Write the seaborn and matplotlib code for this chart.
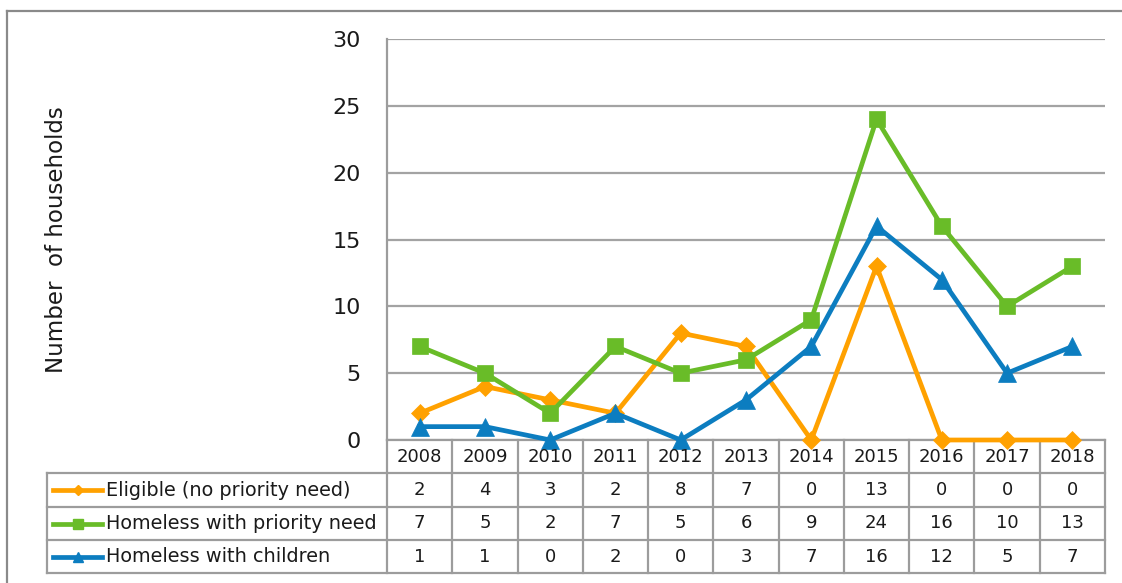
import matplotlib
matplotlib.use("Agg")
import matplotlib.pyplot as plt
import matplotlib.transforms as mtransforms
from matplotlib.lines import Line2D
import seaborn as sns

# Households by year and group
years = [2008, 2009, 2010, 2011, 2012, 2013, 2014, 2015, 2016, 2017, 2018]
eligible = [2, 4, 3, 2, 8, 7, 0, 13, 0, 0, 0]
priority_need = [7, 5, 2, 7, 5, 6, 9, 24, 16, 10, 13]
with_children = [1, 1, 0, 2, 0, 3, 7, 16, 12, 5, 7]

series_names = ["Eligible (no priority need)",
                "Homeless with priority need",
                "Homeless with children"]
series_values = [eligible, priority_need, with_children]
series_colors = ["#FFA100", "#69BC28", "#0C7DC0"]
series_markers = ["D", "s", "^"]
series_msizes = [9, 12, 13]
series_legend_msizes = [5, 6.5, 7]

y_ticks = [0, 5, 10, 15, 20, 25, 30]

grid_color = "#A3A3A3"
table_color = "#9C9C9C"
text_color = "#1A1A1A"

plt.rcParams["font.family"] = ["DejaVu Sans"]

W, H = 1122, 583
fig = plt.figure(figsize=(W / 100, H / 100), dpi=100)
fig.patch.set_facecolor("white")

# plot area in pixel terms
px_left, px_right, px_top, px_bottom = 387, 1105, 39, 440
ax = fig.add_axes([px_left / W, (H - px_bottom) / H,
                   (px_right - px_left) / W, (px_bottom - px_top) / H])

for name, vals, col, mk, ms in zip(series_names, series_values, series_colors,
                                   series_markers, series_msizes):
    sns.lineplot(x=years, y=vals, ax=ax, color=col, marker=mk, markersize=ms,
                 markeredgecolor=col, markeredgewidth=0.5, linewidth=3.4,
                 clip_on=False, zorder=3, legend=False)

ax.set_xlim(years[0] - 0.5, years[-1] + 0.5)
ax.set_ylim(0, 30)
ax.set_yticks(y_ticks)
ax.set_yticklabels([str(t) for t in y_ticks], fontsize=16, color=text_color)
ax.tick_params(axis="y", length=0, pad=19)
ax.set_xticks([])
ax.yaxis.grid(True, color=grid_color, linewidth=1.6)
ax.set_axisbelow(True)
for side in ["top", "right", "bottom"]:
    ax.spines[side].set_visible(False)
ax.spines["left"].set_color(table_color)
ax.spines["left"].set_linewidth(1.6)

ax.set_ylabel("Number  of households", fontsize=16.5, color=text_color,
              va="center")
ax.yaxis.set_label_coords((57 - px_left) / (px_right - px_left), 0.5)

# data table under the plot
plot_h = px_bottom - px_top
plot_w = px_right - px_left


def ay(py):
    return (px_bottom - py) / plot_h


def ax_x(px):
    return (px - px_left) / plot_w


row_edges = [440, 473, 507, 540, 573]
row_centers = [(row_edges[i] + row_edges[i + 1]) / 2 for i in range(4)]
label_left = ax_x(47)

blend = mtransforms.blended_transform_factory(ax.transData, ax.transAxes)
lw_tab = 1.6

# horizontal rules
ax.plot([years[0] - 0.5, years[-1] + 0.5], [0, 0], transform=blend,
        color=table_color, lw=lw_tab, clip_on=False, zorder=2)
for py in row_edges[1:]:
    ax.plot([label_left, 1.0], [ay(py), ay(py)], transform=ax.transAxes,
            color=table_color, lw=lw_tab, clip_on=False)
# vertical rules
for i in range(len(years) + 1):
    xb = years[0] - 0.5 + i
    ax.plot([xb, xb], [0, ay(row_edges[-1])], transform=blend,
            color=table_color, lw=lw_tab, clip_on=False)
ax.plot([label_left, label_left], [ay(row_edges[1]), ay(row_edges[-1])],
        transform=ax.transAxes, color=table_color, lw=lw_tab, clip_on=False)

# year header
for yr in years:
    ax.text(yr, ay(row_centers[0]), str(yr), transform=blend, ha="center",
            va="center", fontsize=13, color=text_color)

# series rows
for r, (name, vals, col, mk, lms) in enumerate(
        zip(series_names, series_values, series_colors, series_markers,
            series_legend_msizes), start=1):
    yc = ay(row_centers[r])
    ax.add_line(Line2D([ax_x(53), ax_x(102)], [yc, yc], transform=ax.transAxes,
                       color=col, lw=3.4, clip_on=False))
    ax.add_line(Line2D([ax_x(78)], [yc], transform=ax.transAxes, color=col,
                       marker=mk, markersize=lms, markeredgecolor=col,
                       linestyle="none", clip_on=False))
    ax.text(ax_x(106), yc, name, transform=ax.transAxes, ha="left",
            va="center", fontsize=13.9, color=text_color)
    for yr, v in zip(years, vals):
        ax.text(yr, yc, str(v), transform=blend, ha="center", va="center",
                fontsize=13, color=text_color)

# outer chart frame
frame_color = "#8A8A8A"
fig.add_artist(Line2D([7 / W, 7 / W], [0, (H - 11) / H], color=frame_color,
                      lw=1.6, transform=fig.transFigure))
fig.add_artist(Line2D([7 / W, 1.0], [(H - 11) / H, (H - 11) / H],
                      color=frame_color, lw=1.6, transform=fig.transFigure))

fig.savefig("out.png", dpi=100, facecolor="white")
